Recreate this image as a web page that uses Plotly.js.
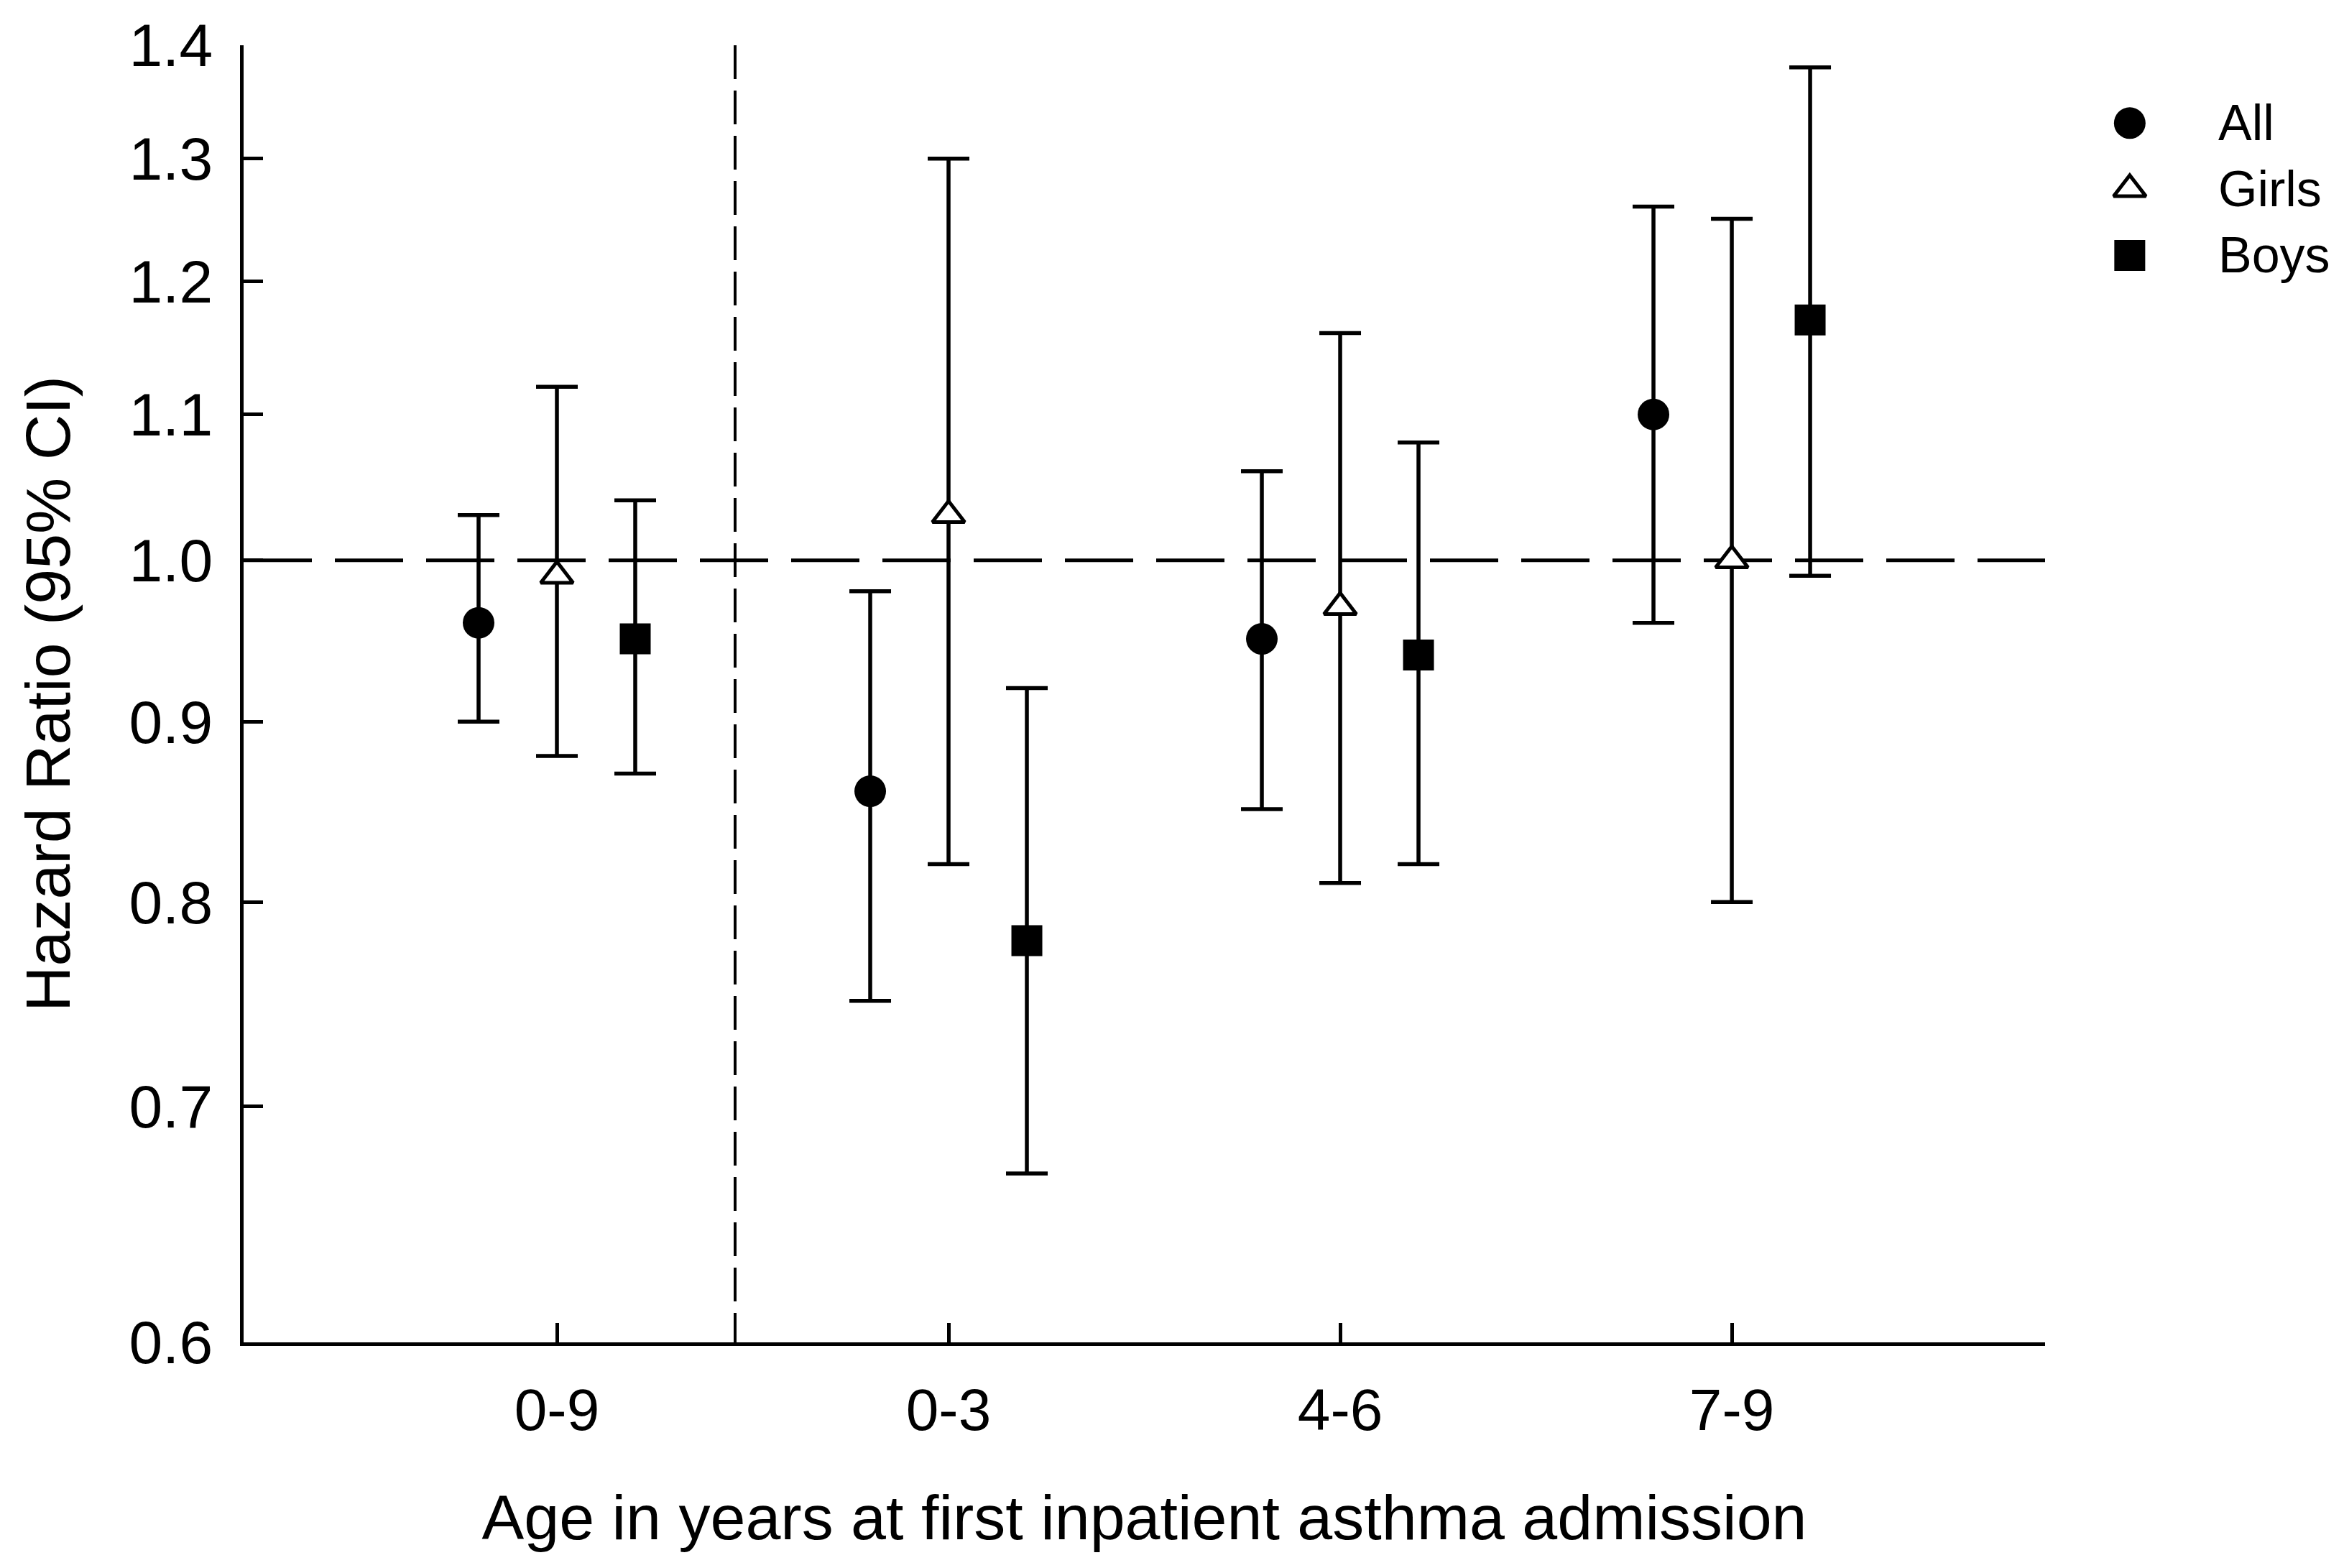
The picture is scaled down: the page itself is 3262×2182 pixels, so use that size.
<!DOCTYPE html>
<html>
<head>
<meta charset="utf-8">
<script src="https://cdn.plot.ly/plotly-3.0.1.min.js"></script>
<style>html,body{margin:0;padding:0;background:#fff;}#chart{width:3262px;height:2182px;}</style>
</head>
<body>
<div id="chart"></div>
<script>
// ---- data ----
var categories = ['0-9', '0-3', '4-6', '7-9'];
var seriesNames = ['All', 'Girls', 'Boys'];

var allHR    = [0.96, 0.86, 0.95, 1.10];
var allLow   = [0.90, 0.75, 0.85, 0.96];
var allHigh  = [1.03, 0.98, 1.06, 1.26];

var girlsHR   = [0.99, 1.03, 0.97, 1.00];
var girlsLow  = [0.88, 0.82, 0.81, 0.80];
var girlsHigh = [1.12, 1.30, 1.16, 1.25];

var boysHR   = [0.95, 0.78, 0.94, 1.17];
var boysLow  = [0.87, 0.67, 0.82, 0.99];
var boysHigh = [1.04, 0.92, 1.08, 1.38];

var yTicks = [0.6, 0.7, 0.8, 0.9, 1.0, 1.1, 1.2, 1.3, 1.4];
var referenceHR = 1.0;
var dividerPos = 0.455;   // vertical divider between overall and age bands

// ---- styling / layout ----
var FONT = 'Liberation Sans, Arial, Helvetica, sans-serif';
var xRange = [-0.8, 3.8];
var yRange = [Math.log10(0.6), Math.log10(1.4)];
var groupOffset = 0.2;

var styles = [
  {symbol: 'circle', size: 44, color: '#000000', opacity: 1, line: {color: '#000000', width: 0}},
  {symbol: 'triangle-up', size: 39, color: '#ffffff', opacity: 1, line: {color: '#000000', width: 5}},
  {symbol: 'square', size: 43, color: '#000000', opacity: 1, line: {color: '#000000', width: 0}}
];
var hr = [allHR, girlsHR, boysHR];
var lo = [allLow, girlsLow, boysLow];
var hi = [allHigh, girlsHigh, boysHigh];

var traces = [];
// reference line HR = 1
traces.push({
  type: 'scatter', mode: 'lines', x: xRange, y: [referenceHR, referenceHR],
  line: {color: '#000', width: 5, dash: '95px,32px'}, hoverinfo: 'skip', showlegend: false
});
// vertical divider
traces.push({
  type: 'scatter', mode: 'lines', x: [dividerPos, dividerPos], y: [yTicks[yTicks.length - 1], yTicks[0]],
  line: {color: '#000', width: 4, dash: '47px,16px'}, hoverinfo: 'skip', showlegend: false
});

seriesNames.forEach(function (name, s) {
  var xs = categories.map(function (c, i) { return i + (s - 1) * groupOffset; });
  traces.push({
    type: 'scatter', mode: 'markers', name: name,
    x: xs, y: hr[s],
    marker: styles[s],
    error_y: {
      type: 'data', symmetric: false,
      array: hr[s].map(function (v, i) { return hi[s][i] - v; }),
      arrayminus: hr[s].map(function (v, i) { return v - lo[s][i]; }),
      color: '#000', thickness: 5.5, width: 29
    },
    showlegend: false
  });
});

// custom legend (large symbols) on a hidden helper axis pair
seriesNames.forEach(function (name, s) {
  traces.push({
    type: 'scatter', mode: 'markers', xaxis: 'x2', yaxis: 'y2', name: name,
    x: [0], y: [s],
    marker: styles[s],
    hoverinfo: 'skip', showlegend: false
  });
});

var annotations = seriesNames.map(function (n, i) {
  return {
    text: n, xref: 'paper', x: 0.9394, xanchor: 'left',
    yref: 'y2', y: i, yanchor: 'middle', showarrow: false,
    font: {family: FONT, size: 70, color: '#000'}
  };
});

var layout = {
  width: 3262, height: 2182,
  margin: {l: 339, r: 0, t: 63, b: 314, pad: 0},
  paper_bgcolor: '#fff', plot_bgcolor: '#fff',
  showlegend: false,
  font: {family: FONT, color: '#000'},
  xaxis: {
    domain: [0, 0.8577], range: xRange,
    tickmode: 'array', tickvals: categories.map(function (c, i) { return i; }), ticktext: categories,
    ticks: 'inside', ticklen: 27, tickwidth: 5, tickcolor: '#000',
    showline: true, linewidth: 5, linecolor: '#000',
    showgrid: false, zeroline: false,
    tickfont: {family: FONT, size: 82, color: '#000'},
    ticklabelstandoff: 19,
    title: {text: 'Age in years at first inpatient asthma admission', font: {family: FONT, size: 88, color: '#000'}, standoff: 75},
    automargin: false, fixedrange: true
  },
  yaxis: {
    type: 'log', range: yRange,
    tickmode: 'array', tickvals: yTicks, ticktext: yTicks.map(function (v) { return v.toFixed(1); }),
    ticks: 'inside', ticklen: 27, tickwidth: 5, tickcolor: '#000',
    showline: true, linewidth: 5, linecolor: '#000',
    showgrid: false, zeroline: false,
    tickfont: {family: FONT, size: 84, color: '#000'},
    ticklabelstandoff: 21,
    title: {text: 'Hazard Ratio (95% CI)', font: {family: FONT, size: 88, color: '#000'}, standoff: 54},
    automargin: false, fixedrange: true
  },
  xaxis2: {domain: [0.88, 0.916], range: [-1, 1], visible: false, anchor: 'y2', fixedrange: true},
  yaxis2: {domain: [0.8125, 0.9655], range: [2.5, -0.5], visible: false, anchor: 'x2', fixedrange: true},
  annotations: annotations
};

Plotly.newPlot('chart', traces, layout, {displayModeBar: false, staticPlot: true});
</script>
</body>
</html>
